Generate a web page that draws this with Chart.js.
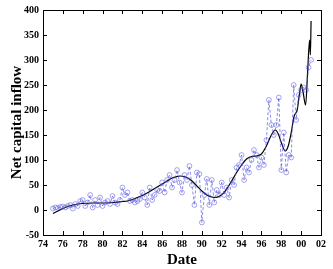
<!DOCTYPE html>
<html>
<head>
<meta charset="utf-8">
<script src="https://cdn.jsdelivr.net/npm/chart.js@4"></script>
<style>
  html, body { margin: 0; padding: 0; background: #fff; }
  #wrap { width: 333px; height: 269px; }
</style>
</head>
<body>
<div id="wrap"><canvas id="chart"></canvas></div>
<script>
'use strict'

// observed series, quarterly
const obsDates = [
  75.00, 75.25, 75.50, 75.75, 76.00, 76.25, 76.50, 76.75, 77.00, 77.25, 77.50, 77.75,
  78.00, 78.25, 78.50, 78.75, 79.00, 79.25, 79.50, 79.75, 80.00, 80.25, 80.50, 80.75,
  81.00, 81.25, 81.50, 81.75, 82.00, 82.25, 82.50, 82.75, 83.00, 83.25, 83.50, 83.75,
  84.00, 84.25, 84.50, 84.75, 85.00, 85.25, 85.50, 85.75, 86.00, 86.25, 86.50, 86.75,
  87.00, 87.25, 87.50, 87.75, 88.00, 88.25, 88.50, 88.75, 89.00, 89.25, 89.50, 89.75,
  90.00, 90.25, 90.50, 90.75, 91.00, 91.25, 91.50, 91.75, 92.00, 92.25, 92.50, 92.75,
  93.00, 93.25, 93.50, 93.75, 94.00, 94.25, 94.50, 94.75, 95.00, 95.25, 95.50, 95.75,
  96.00, 96.25, 96.50, 96.75, 97.00, 97.25, 97.50, 97.75, 98.00, 98.25, 98.50, 98.75,
  99.00, 99.25, 99.50, 99.75, 100.00, 100.25, 100.50, 100.75, 101.00
]
const obsValues = [
  3, 5, 4, 6, 7, 5, 8, 10, 3, 12, 8, 18,
  20, 8, 15, 30, 5, 20, 10, 25, 8, 15, 18, 12,
  28, 15, 12, 20, 45, 30, 35, 18, 20, 15, 18, 22,
  35, 25, 10, 45, 20, 30, 40, 38, 55, 35, 60, 70,
  45, 60, 80, 55, 35, 70, 60, 88, 50, 10, 75, 72,
  -25, 30, 62, 10, 60, 15, 40, 30, 55, 30, 45, 25,
  60, 50, 85, 90, 110, 60, 85, 75, 100, 120, 110, 85,
  105, 90, 140, 220, 170, 150, 170, 225, 80, 155, 75, 110,
  105, 250, 180, 230, 240, 245, 240, 285, 300
]

// fitted trend
const fitDates = [
  75, 75.5, 76, 76.5, 77, 77.5, 78, 79, 80, 81, 82, 82.5, 83, 83.5, 84, 84.5,
  85, 85.5, 86, 86.5, 87, 87.5, 87.8, 88.2, 88.6, 89, 89.5, 90, 90.5, 91, 91.4,
  91.8, 92.2, 92.6, 93, 93.5, 94, 94.5, 95, 95.5, 96, 96.5, 97, 97.4, 97.7, 98,
  98.4, 98.7, 99, 99.3, 99.6, 99.85, 100.0, 100.2, 100.45, 100.65, 100.85, 100.93, 101.0
]
const fitValues = [
  -7, -2, 3, 7, 10, 12, 13, 14, 14, 15, 17, 18, 21, 25, 29, 34,
  40, 46, 52, 58, 64, 67, 68, 67, 64, 58, 48, 38, 30, 26, 25,
  28, 34, 45, 58, 75, 90, 102, 107, 108, 112, 128, 150, 160, 152, 135,
  118, 128, 155, 188, 200, 235, 252, 235, 210, 275, 340, 310, 378
]

const xTicks = [74, 76, 78, 80, 82, 84, 86, 88, 90, 92, 94, 96, 98, 100, 102]
const yTicks = [-50, 0, 50, 100, 150, 200, 250, 300, 350, 400]

const serif = "'Liberation Serif', 'DejaVu Serif', serif"

function pairs(xs, ys) {
  return xs.map((x, i) => ({ x, y: ys[i] }))
}

// inward ticks on all four sides, plus the box
const frame = {
  id: 'frame',
  afterDraw(chart) {
    const { ctx, chartArea: a, scales } = chart
    const len = 4
    ctx.save()
    ctx.strokeStyle = '#000'
    ctx.lineWidth = 1
    ctx.beginPath()
    xTicks.forEach((v) => {
      const px = Math.round(scales.x.getPixelForValue(v)) + 0.5
      ctx.moveTo(px, a.bottom); ctx.lineTo(px, a.bottom - len)
      ctx.moveTo(px, a.top); ctx.lineTo(px, a.top + len)
    })
    yTicks.forEach((v) => {
      const py = Math.round(scales.y.getPixelForValue(v)) + 0.5
      ctx.moveTo(a.left, py); ctx.lineTo(a.left + len, py)
      ctx.moveTo(a.right, py); ctx.lineTo(a.right - len, py)
    })
    ctx.stroke()
    ctx.strokeRect(Math.round(a.left) + 0.5, Math.round(a.top) + 0.5,
      Math.round(a.right - a.left), Math.round(a.bottom - a.top))
    ctx.restore()
  },
}

new Chart(document.getElementById('chart'), {
  type: 'line',
  data: {
    datasets: [
      {
        label: 'observed',
        data: pairs(obsDates, obsValues),
        borderColor: 'rgba(80, 80, 220, 0.75)',
        borderWidth: 0.9,
        borderDash: [3, 2],
        pointRadius: 2.4,
        pointBorderWidth: 0.7,
        pointBorderColor: 'rgba(80, 80, 220, 0.75)',
        pointBackgroundColor: 'rgba(255, 255, 255, 0)',
        tension: 0,
      },
      {
        label: 'fit',
        data: pairs(fitDates, fitValues),
        borderColor: '#000',
        borderWidth: 1.2,
        pointRadius: 0,
        cubicInterpolationMode: 'monotone',
      },
    ],
  },
  options: {
    responsive: true,
    maintainAspectRatio: false,
    animation: false,
    events: [],
    layout: { padding: { left: 0, top: 5, right: 12, bottom: 0 } },
    plugins: { legend: { display: false }, tooltip: { enabled: false } },
    scales: {
      x: {
        type: 'linear',
        min: 74,
        max: 102,
        afterBuildTicks(s) { s.ticks = xTicks.map((v) => ({ value: v })) },
        afterFit(s) { s.height = 34 },
        grid: { drawOnChartArea: false, drawTicks: false },
        border: { color: '#000' },
        ticks: {
          padding: 3,
          color: '#000',
          maxRotation: 0,
          font: { family: serif, size: 10, weight: 'bold' },
          callback: (v) => String(v % 100).padStart(2, '0'),
        },
        title: {
          display: true,
          text: 'Date',
          color: '#000',
          padding: { top: 0, bottom: 0 },
          font: { family: serif, size: 15, weight: 'bold' },
        },
      },
      y: {
        min: -50,
        max: 400,
        afterBuildTicks(s) { s.ticks = yTicks.map((v) => ({ value: v })) },
        afterFit(s) { s.width = 43 },
        grid: { drawOnChartArea: false, drawTicks: false },
        border: { color: '#000' },
        ticks: {
          padding: 4,
          color: '#000',
          font: { family: serif, size: 10, weight: 'bold' },
        },
        title: {
          display: true,
          text: 'Net capital inflow',
          color: '#000',
          padding: { top: 8, bottom: 0 },
          font: { family: serif, size: 15, weight: 'bold' },
        },
      },
    },
  },
  plugins: [frame],
})
</script>
</body>
</html>
